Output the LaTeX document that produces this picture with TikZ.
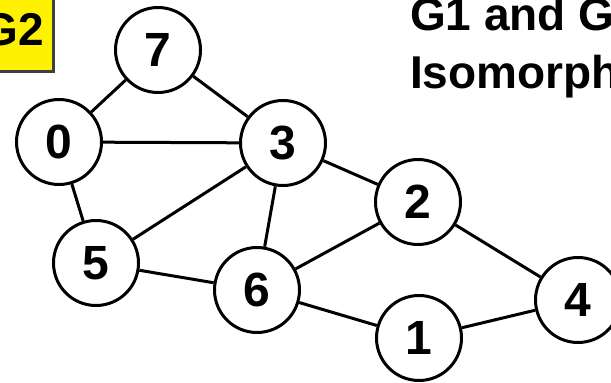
\documentclass[tikz,border=0pt]{standalone}
\usepackage{fontspec}
\setmainfont{Liberation Sans}
\begin{document}
\begin{tikzpicture}[x=1pt,y=-1pt,
  vert/.style={circle,draw=black,line width=3pt,fill=white,minimum size=85pt,inner sep=0pt,
    font=\fontsize{48}{48}\selectfont\bfseries},
  edge/.style={draw=black,line width=3pt},
  title/.style={inner sep=0pt,font=\fontsize{46}{55}\selectfont\bfseries},
]
\useasboundingbox (0,0) rectangle (611,383);
% G2 tag
\path[fill=yellow,draw=black!75,line width=2.5pt] (-10,-10) rectangle (53.5,71.5);
\node[title,anchor=base east] (g2) at (44,45) {G2};
% title (cut off by the right edge, as in the reference)
\node[title,anchor=base west] (t1) at (410,30) {G1 and G};
\node[title,anchor=base west] (t2) at (410,88) {Isomorph};
% vertices
\node[vert] (n7) at (158,50) {7};
\node[vert] (n0) at (59,142) {0};
\node[vert] (n3) at (283,143) {3};
\node[vert] (n5) at (96,263) {5};
\node[vert] (n6) at (257,290) {6};
\node[vert] (n2) at (418,202) {2};
\node[vert] (n1) at (419,338) {1};
\node[vert] (n4) at (578,300) {4};
% edges
\draw[edge] (n7) -- (n0);
\draw[edge] (n7) -- (n3);
\draw[edge] (n0) -- (n3);
\draw[edge] (n0) -- (n5);
\draw[edge] (n5) -- (n3);
\draw[edge] (n5) -- (n6);
\draw[edge] (n3) -- (n6);
\draw[edge] (n3) -- (n2);
\draw[edge] (n2) -- (n6);
\draw[edge] (n2) -- (n4);
\draw[edge] (n6) -- (n1);
\draw[edge] (n1) -- (n4);
\end{tikzpicture}
\end{document}
